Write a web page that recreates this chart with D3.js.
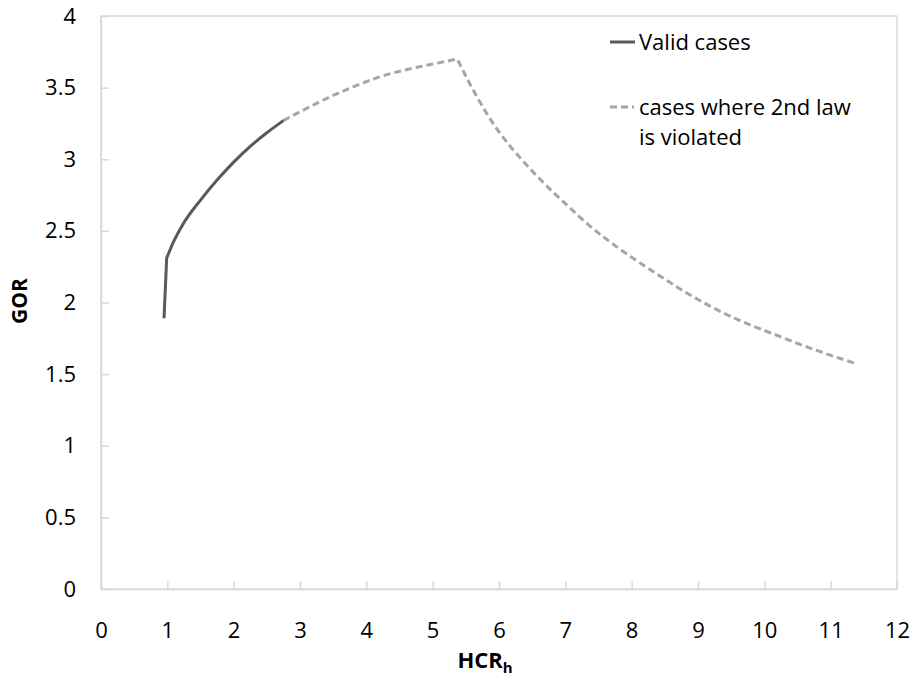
<!DOCTYPE html>
<html>
<head>
<meta charset="utf-8">
<script src="https://cdn.jsdelivr.net/npm/d3@7"></script>
<style>
  body { margin: 0; background: #fff; }
  text { font-family: "Open Sans", Lato, sans-serif; }
</style>
</head>
<body>
<div id="chart"></div>
<script>
// HCR_h vs GOR
const validPts = [
  [0.95,1.89],[0.99,2.31],[1.1,2.43],[1.24,2.55],[1.5,2.715],[1.75,2.855],
  [2.0,2.98],[2.25,3.09],[2.5,3.185],[2.75,3.27]
];
const violatedPts = [
  [2.75,3.27],[3.1,3.355],[3.45,3.435],[3.8,3.505],[4.2,3.575],[4.6,3.625],[4.95,3.66],
  [5.2,3.683],[5.37,3.70],[5.65,3.45],[5.97,3.21],[6.3,3.02],[6.62,2.86],[7.0,2.69],
  [7.38,2.53],[7.8,2.38],[8.38,2.20],[8.8,2.075],[9.14,1.985],[9.6,1.88],[10.14,1.78],
  [10.7,1.68],[11.37,1.575]
];
const xTicks = [0,1,2,3,4,5,6,7,8,9,10,11,12];
const yTicks = [0,0.5,1,1.5,2,2.5,3,3.5,4];
const legendLabels = ["Valid cases", ["cases where 2nd law", "is violated"]];

const W = 914, H = 681;
const m = {left: 101, right: 17, top: 16, bottom: 92};
const fs = 22;

const svg = d3.select('#chart').append('svg').attr('width', W).attr('height', H);

const x = d3.scaleLinear().domain([0,12]).range([m.left, W - m.right]);
const y = d3.scaleLinear().domain([0,4]).range([H - m.bottom, m.top]);

const axisCol = '#d9d9d9';

// plot frame
svg.append('rect')
  .attr('x', x(0)).attr('y', y(4))
  .attr('width', x(12) - x(0)).attr('height', y(0) - y(4))
  .attr('fill', 'none').attr('stroke', axisCol).attr('stroke-width', 1.5);

// x axis, inner ticks
let gx = svg.append('g').attr('transform', 'translate(0,' + y(0) + ')')
  .call(d3.axisBottom(x).tickValues(xTicks).tickSizeInner(-8).tickSizeOuter(0).tickPadding(33));
gx.select('.domain').attr('stroke', axisCol).attr('stroke-width', 1.5);
gx.selectAll('.tick line').attr('stroke', axisCol).attr('stroke-width', 1.5);
gx.selectAll('.tick text').attr('font-size', fs).attr('fill', '#000');

// y axis, inner ticks
let gy = svg.append('g').attr('transform', 'translate(' + x(0) + ',0)')
  .call(d3.axisLeft(y).tickValues(yTicks).tickSizeInner(-8).tickSizeOuter(0).tickPadding(25)
    .tickFormat(d => String(d)));
gy.select('.domain').attr('stroke', axisCol).attr('stroke-width', 1.5);
gy.selectAll('.tick line').attr('stroke', axisCol).attr('stroke-width', 1.5);
gy.selectAll('.tick text').attr('font-size', fs).attr('fill', '#000');

// axis titles
svg.append('text')
  .attr('transform', 'translate(27,' + 301 + ') rotate(-90)')
  .attr('text-anchor', 'middle').attr('font-size', 21).attr('font-weight', 'bold')
  .text('GOR');
let xt = svg.append('text')
  .attr('x', 485).attr('y', 668)
  .attr('text-anchor', 'middle').attr('font-size', 22).attr('font-weight', 'bold');
xt.append('tspan').text('HCR');
xt.append('tspan').attr('font-size', 15).attr('dy', 5).text('h');

// curves: smooth pieces joined at the sharp corners
const smooth = d3.line().x(d => x(d[0])).y(d => y(d[1])).curve(d3.curveMonotoneX);
const straight = d3.line().x(d => x(d[0])).y(d => y(d[1]));
const join = (a, b) => a + b.replace(/^M/, 'L');

const iPeak = violatedPts.findIndex(d => d[0] === 5.37);
svg.append('path')
  .attr('d', join(smooth(violatedPts.slice(0, iPeak + 1)), smooth(violatedPts.slice(iPeak))))
  .attr('fill', 'none').attr('stroke', '#a6a6a6').attr('stroke-width', 3)
  .attr('stroke-dasharray', '7,4');
svg.append('path')
  .attr('d', join(straight(validPts.slice(0, 2)), smooth(validPts.slice(1))))
  .attr('fill', 'none').attr('stroke', '#595959').attr('stroke-width', 3)
  .attr('stroke-linejoin', 'round');

// legend
let lg = svg.append('g');
lg.append('line').attr('x1', 610).attr('x2', 635).attr('y1', 42).attr('y2', 42)
  .attr('stroke', '#595959').attr('stroke-width', 3);
lg.append('text').attr('x', 639).attr('y', 50).attr('font-size', fs).text(legendLabels[0]);
lg.append('line').attr('x1', 610).attr('x2', 634).attr('y1', 107).attr('y2', 107)
  .attr('stroke', '#a6a6a6').attr('stroke-width', 3).attr('stroke-dasharray', '7,4');
lg.append('text').attr('x', 639).attr('y', 115).attr('font-size', fs)
  .selectAll('tspan').data(legendLabels[1]).enter().append('tspan')
  .attr('x', 639).attr('dy', (d,i) => i ? 30 : 0).text(d => d);
</script>
</body>
</html>
